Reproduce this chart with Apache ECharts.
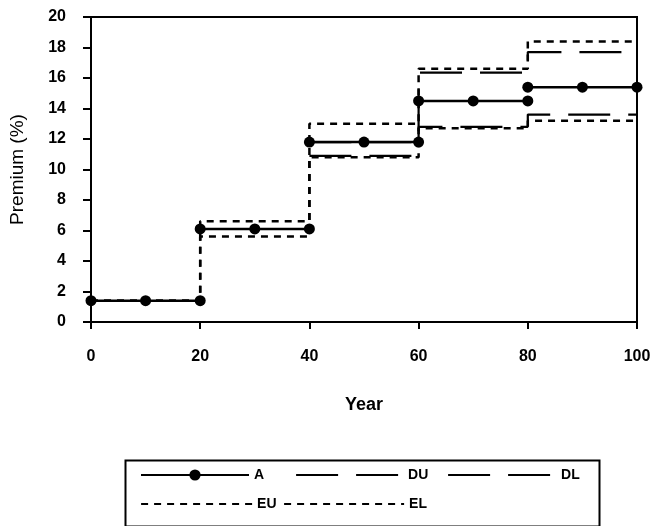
<!DOCTYPE html>
<html><head><meta charset="utf-8">
<script src="https://cdn.jsdelivr.net/npm/echarts@6/dist/echarts.min.js"></script>
<style>html,body{margin:0;padding:0;background:#fff}#c{width:657px;height:526px}</style>
</head><body><div id="c"></div>
<script>
// Data
const xTicks = [0, 20, 40, 60, 80, 100];
const yTicks = [0, 2, 4, 6, 8, 10, 12, 14, 16, 18, 20];
// Series A: marked points per 20-year period (null breaks the line between periods)
const aX = [0, 10, 20, null, 20, 30, 40, null, 40, 50, 60, null, 60, 70, 80, null, 80, 90, 100];
const aY = [1.4, 1.4, 1.4, null, 6.1, 6.1, 6.1, null, 11.8, 11.8, 11.8, null, 14.5, 14.5, 14.5, null, 15.4, 15.4, 15.4];
// Step bounds (value holds from each x to the next)
const euX = [0, 20, 40, 60, 80, 100];
const euY = [1.4, 6.6, 13.0, 16.6, 18.4, 18.4];
const elX = [0, 20, 40, 60, 80, 100];
const elY = [1.4, 5.6, 10.8, 12.7, 13.2, 13.2];
const duX = [40, 60, 80, 100];
const duY = [11.8, 16.35, 17.7, 17.7];
const dlX = [40, 60, 80, 100];
const dlY = [10.9, 12.8, 13.6, 13.6];

function pairs(xs, ys) { return xs.map((x, i) => (x === null ? [null, null] : [x, ys[i]])); }

const FONT = "'Liberation Sans',Arial,sans-serif";
const LONG = [42, 18];
const SHORT = [7, 6];
const chart = echarts.init(document.getElementById('c'), null, {renderer: 'canvas'});
const legendText = {fontFamily: FONT, fontWeight: 'bold', fontSize: 14, color: '#000'};
function lg(name, left, top, w, dash) {
  const o = {data: [name], left: left, top: top, itemWidth: w, itemHeight: 14, padding: 0,
          textStyle: legendText, selectedMode: false};
  if (dash) {
    o.itemStyle = {opacity: 0};
    o.lineStyle = {color: '#000', width: 2.2, type: dash};
  } else {
    o.itemStyle = {color: '#000'};
    o.lineStyle = {color: '#000', width: 2};
  }
  return o;
}
chart.setOption({
  animation: false,
  backgroundColor: '#fff',
  color: ['#000', '#000', '#000', '#000', '#000'],
  grid: {left: 89, right: 20, top: 17, bottom: 204, show: true, borderColor: '#000', borderWidth: 2},
  xAxis: {
    type: 'value', min: 0, max: 100, interval: 20,
    name: 'Year', nameLocation: 'middle', nameGap: 74,
    nameTextStyle: {fontFamily: FONT, fontSize: 18, color: '#000', fontWeight: 'bold'},
    axisLine: {show: true, lineStyle: {color: '#000', width: 2}},
    axisTick: {show: true, length: 7, lineStyle: {color: '#000', width: 2}},
    axisLabel: {margin: 27, fontFamily: FONT, fontWeight: 'bold', fontSize: 16, color: '#000'},
    splitLine: {show: false}
  },
  yAxis: {
    type: 'value', min: 0, max: 20, interval: 2,
    name: 'Premium (%)', nameLocation: 'middle', nameGap: 64, nameRotate: 90,
    nameTextStyle: {fontFamily: FONT, fontSize: 19, color: '#000'},
    axisLine: {show: true, lineStyle: {color: '#000', width: 2}},
    axisTick: {show: true, length: 8, lineStyle: {color: '#000', width: 2}},
    axisLabel: {margin: 25, fontFamily: FONT, fontWeight: 'bold', fontSize: 16, color: '#000'},
    splitLine: {show: false}
  },
  legend: [
    lg('A', 140, 468, 108, null),
    lg('DU', 295, 468, 107, LONG),
    lg('DL', 447, 468, 108, LONG),
    lg('EU', 140, 497, 111, SHORT),
    lg('EL', 283, 497, 120, SHORT)
  ],
  graphic: [{type: 'rect', left: 123, top: 458, shape: {width: 474, height: 66},
             style: {fill: 'none', stroke: '#000', lineWidth: 2}}],
  series: [
    {name: 'A', type: 'line', data: pairs(aX, aY), connectNulls: false, z: 5,
     symbol: 'circle', symbolSize: 11, itemStyle: {color: '#000'},
     lineStyle: {color: '#000', width: 2.5}},
    {name: 'DU', type: 'line', step: 'end', data: pairs(duX, duY), symbol: 'none', z: 3,
     itemStyle: {color: '#000'}, lineStyle: {color: '#000', width: 2.2, type: LONG}},
    {name: 'DL', type: 'line', step: 'end', data: pairs(dlX, dlY), symbol: 'none', z: 3,
     itemStyle: {color: '#000'}, lineStyle: {color: '#000', width: 2.2, type: LONG}},
    {name: 'EU', type: 'line', step: 'end', data: pairs(euX, euY), symbol: 'none', z: 4,
     itemStyle: {color: '#000'}, lineStyle: {color: '#000', width: 2.5, type: SHORT}},
    {name: 'EL', type: 'line', step: 'end', data: pairs(elX, elY), symbol: 'none', z: 4,
     itemStyle: {color: '#000'}, lineStyle: {color: '#000', width: 2.5, type: SHORT}}
  ]
});
</script></body></html>
